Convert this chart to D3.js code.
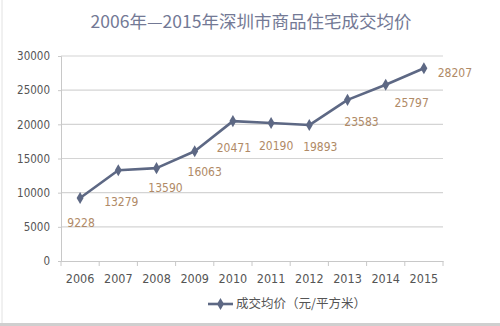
<!DOCTYPE html>
<html>
<head>
<meta charset="utf-8">
<script src="https://cdn.jsdelivr.net/npm/d3@7"></script>
<style>
  body { margin: 0; background: #fff; }
  text { font-family: "Noto Sans CJK SC", "DejaVu Sans", sans-serif; }
  text.num { font-family: "DejaVu Sans Condensed", "Liberation Sans", sans-serif; }
</style>
</head>
<body>
<div id="chart-area"></div>
<script>
// data
const years = ["2006", "2007", "2008", "2009", "2010", "2011", "2012", "2013", "2014", "2015"];
const prices = [9228, 13279, 13590, 16063, 20471, 20190, 19893, 23583, 25797, 28207];
const yTicks = [0, 5000, 10000, 15000, 20000, 25000, 30000];
const titleText = "2006年—2015年深圳市商品住宅成交均价";
const seriesName = "成交均价（元/平方米）";

// label nudges (layout only), in px from each point
const labelDx = [1, 3, 9, 10, 1, 5, 11, 14, 26, 31];
const labelDy = [25, 32, 20, 21, 27, 23, 22, 22, 18, 5];

// canvas size
const svgWidth = 500,
      svgHeight = 326;
const margin = { left: 61, right: 57, top: 56, bottom: 65 };
const chartWidth = svgWidth - margin.left - margin.right,
      chartHeight = svgHeight - margin.top - margin.bottom;

const lineColor = "#5d6884",
      labelColor = "#b08a66",
      gridColor = "#d4d4d4",
      textColor = "#555";

const svg = d3.select("#chart-area").append("svg")
    .attr("width", svgWidth)
    .attr("height", svgHeight);

// frame
svg.append("line")
    .attr("x1", 2).attr("x2", 2).attr("y1", 0).attr("y2", 323)
    .attr("stroke", "#e2e2e2");
svg.append("rect")
    .attr("x", 0).attr("y", 323)
    .attr("width", svgWidth).attr("height", 3)
    .attr("fill", "#cfcfcf");

// title
svg.append("text")
    .attr("x", 251)
    .attr("y", 28)
    .attr("text-anchor", "middle")
    .attr("font-size", "17.5px")
    .attr("fill", "#737995")
    .text(titleText);

const g = svg.append("g")
    .attr("transform", "translate(" + margin.left + "," + margin.top + ")");

// scales
const xScale = d3.scaleBand().domain(years).range([0, chartWidth]);
const yScale = d3.scaleLinear().domain([0, 30000]).range([chartHeight, 0]);

// gridlines
g.append("g").selectAll("line")
    .data(yTicks.filter(function(d){ return d > 0; }))
    .join("line")
    .attr("x1", 0)
    .attr("x2", chartWidth)
    .attr("y1", function(d){ return yScale(d); })
    .attr("y2", function(d){ return yScale(d); })
    .attr("stroke", gridColor)
    .attr("stroke-width", 1.2);

// y axis
const yAxis = g.append("g")
    .call(d3.axisLeft(yScale).tickValues(yTicks).tickFormat(d3.format("d")).tickSize(3).tickPadding(8));
yAxis.select(".domain").attr("stroke", "#c8c8c8");
yAxis.selectAll(".tick line").attr("stroke", "#c8c8c8");
yAxis.selectAll(".tick text")
    .attr("class", "num")
    .attr("font-size", "11.5px")
    .attr("fill", textColor);

// x axis, ticks on band edges
const xAxis = g.append("g")
    .attr("transform", "translate(0," + chartHeight + ")")
    .call(d3.axisBottom(xScale).tickSize(0).tickPadding(13));
xAxis.select(".domain").attr("stroke", "#c8c8c8");
xAxis.selectAll(".tick text")
    .attr("class", "num")
    .attr("font-size", "12.5px")
    .attr("fill", textColor);
xAxis.append("g").selectAll("line")
    .data(years.concat(["end"]))
    .join("line")
    .attr("x1", function(d, i){ return i * xScale.step(); })
    .attr("x2", function(d, i){ return i * xScale.step(); })
    .attr("y1", 0)
    .attr("y2", 5)
    .attr("stroke", "#c8c8c8");

const cx = function(d, i){ return xScale(years[i]) + xScale.bandwidth() / 2; };
const cy = function(d){ return yScale(d); };

// line
const line = d3.line()
    .x(cx)
    .y(cy);
g.append("path")
    .datum(prices)
    .attr("fill", "none")
    .attr("stroke", lineColor)
    .attr("stroke-width", 2.6)
    .attr("stroke-linejoin", "round")
    .attr("d", line);

// markers
const diamond = d3.symbol().type(d3.symbolDiamond).size(42);
g.append("g").selectAll("path")
    .data(prices)
    .join("path")
    .attr("d", diamond)
    .attr("transform", function(d, i){ return "translate(" + cx(d, i) + "," + cy(d) + ")"; })
    .attr("fill", lineColor);

// data labels
g.append("g").selectAll("text")
    .data(prices)
    .join("text")
    .attr("class", "num")
    .attr("x", function(d, i){ return cx(d, i) + labelDx[i]; })
    .attr("y", function(d, i){ return cy(d) + labelDy[i]; })
    .attr("dy", "0.35em")
    .attr("text-anchor", "middle")
    .attr("font-size", "12px")
    .attr("fill", labelColor)
    .text(function(d){ return d; });

// legend
const legend = svg.append("g")
    .attr("transform", "translate(208,304)");
legend.append("line")
    .attr("x1", 0).attr("x2", 25)
    .attr("y1", 0).attr("y2", 0)
    .attr("stroke", lineColor)
    .attr("stroke-width", 2.6);
legend.append("path")
    .attr("d", diamond)
    .attr("transform", "translate(12.5,0)")
    .attr("fill", lineColor);
legend.append("text")
    .attr("x", 28)
    .attr("y", 0)
    .attr("dy", "0.35em")
    .attr("font-size", "12.5px")
    .attr("fill", textColor)
    .text(seriesName);
</script>
</body>
</html>
